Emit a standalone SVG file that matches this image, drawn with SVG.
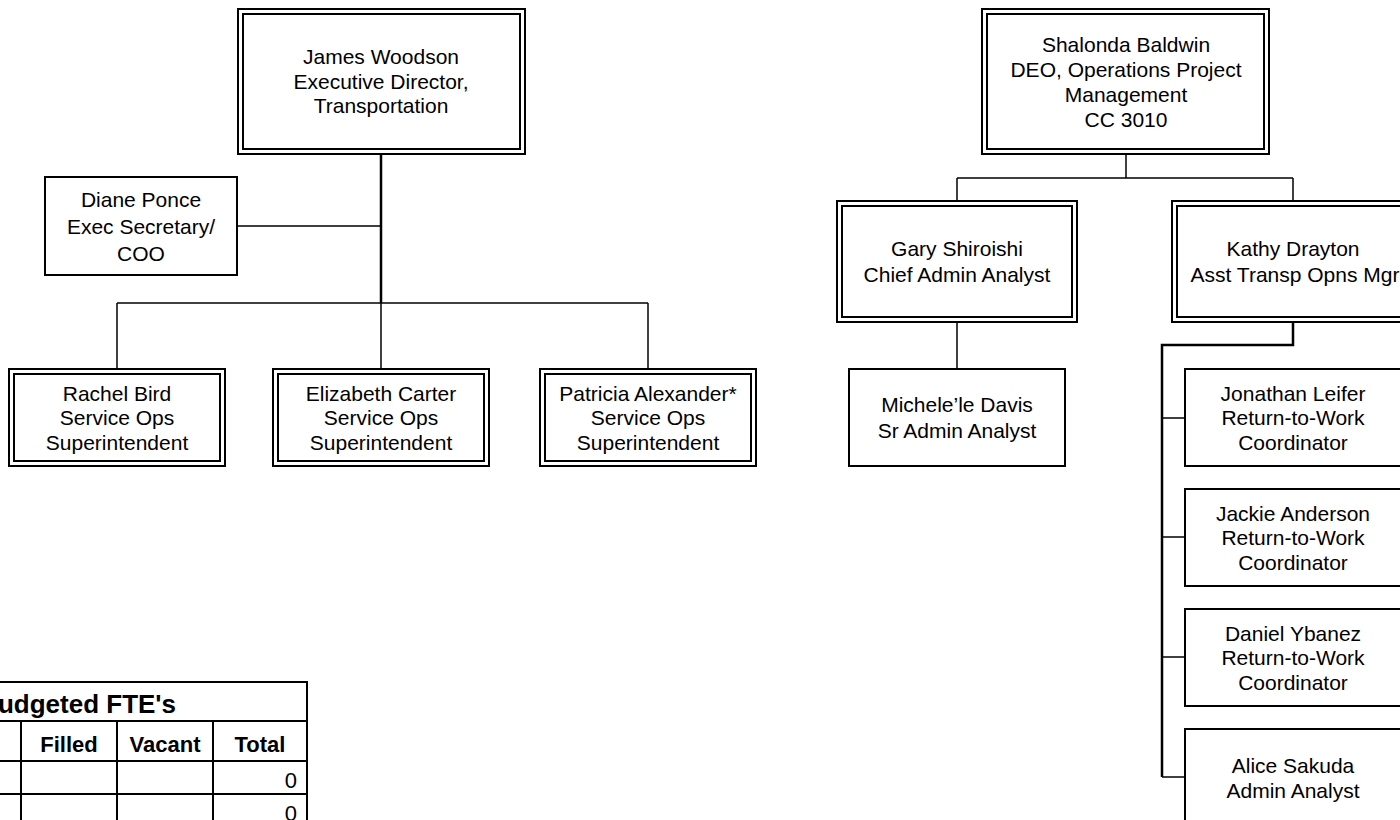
<svg xmlns="http://www.w3.org/2000/svg" width="1400" height="820" viewBox="0 0 1400 820">
<style>
  .bg { fill: #ffffff; }
  .outer, .inner, .single { fill: none; stroke: #000; stroke-width: 2; }
  .t { font-family: "Liberation Sans", Arial, sans-serif; font-size: 21px; fill: #000; text-anchor: middle; }
  .ln { stroke: #000; stroke-width: 1.5; fill: none; }
  .thick { stroke: #000; stroke-width: 2.5; fill: none; }
  .tbl { stroke: #000; stroke-width: 2; fill: none; }
  .th { font-family: "Liberation Sans", Arial, sans-serif; font-weight: bold; fill: #000; }
  .td { font-family: "Liberation Sans", Arial, sans-serif; font-size: 22px; fill: #000; text-anchor: end; }
</style>
<rect class="bg" x="0" y="0" width="1400" height="820"/>

<g id="connectors">
  <line class="thick" x1="381" y1="154" x2="381" y2="303"/>
  <line class="ln" x1="381" y1="303" x2="381" y2="369"/>
  <line class="ln" x1="237" y1="226" x2="381" y2="226"/>
  <line class="ln" x1="117" y1="303" x2="648" y2="303"/>
  <line class="ln" x1="117" y1="303" x2="117" y2="369"/>
  <line class="ln" x1="648" y1="303" x2="648" y2="369"/>
  <line class="ln" x1="1126" y1="154" x2="1126" y2="178"/>
  <line class="ln" x1="957" y1="178" x2="1293" y2="178"/>
  <line class="ln" x1="957" y1="178" x2="957" y2="201"/>
  <line class="ln" x1="1293" y1="178" x2="1293" y2="201"/>
  <line class="ln" x1="957" y1="322" x2="957" y2="369"/>
  <polyline class="thick" points="1293,322 1293,345 1162,345 1162,777"/>
  <line class="ln" x1="1162" y1="418" x2="1185" y2="418"/>
  <line class="ln" x1="1162" y1="537" x2="1185" y2="537"/>
  <line class="ln" x1="1162" y1="657" x2="1185" y2="657"/>
  <line class="ln" x1="1162" y1="777" x2="1185" y2="777"/>
</g>

<g id="james-woodson">
  <rect class="outer" x="238" y="9" width="287" height="145"/>
  <rect class="inner" x="243" y="14" width="277" height="135"/>
  <text class="t" x="381" y="64">James Woodson</text>
  <text class="t" x="381" y="88.5">Executive Director,</text>
  <text class="t" x="381" y="113">Transportation</text>
</g>

<g id="diane-ponce">
  <rect class="single" x="45" y="177" width="192" height="98"/>
  <text class="t" x="141" y="206.5">Diane Ponce</text>
  <text class="t" x="141" y="233.5">Exec Secretary/</text>
  <text class="t" x="141" y="260.5">COO</text>
</g>

<g id="rachel-bird">
  <rect class="outer" x="9" y="369" width="216" height="97"/>
  <rect class="inner" x="14" y="374" width="206" height="87"/>
  <text class="t" x="117" y="400.5">Rachel Bird</text>
  <text class="t" x="117" y="425">Service Ops</text>
  <text class="t" x="117" y="449.5">Superintendent</text>
</g>

<g id="elizabeth-carter">
  <rect class="outer" x="273" y="369" width="216" height="97"/>
  <rect class="inner" x="278" y="374" width="206" height="87"/>
  <text class="t" x="381" y="400.5">Elizabeth Carter</text>
  <text class="t" x="381" y="425">Service Ops</text>
  <text class="t" x="381" y="449.5">Superintendent</text>
</g>

<g id="patricia-alexander">
  <rect class="outer" x="540" y="369" width="216" height="97"/>
  <rect class="inner" x="545" y="374" width="206" height="87"/>
  <text class="t" x="648" y="400.5">Patricia Alexander*</text>
  <text class="t" x="648" y="425">Service Ops</text>
  <text class="t" x="648" y="449.5">Superintendent</text>
</g>

<g id="shalonda-baldwin">
  <rect class="outer" x="982" y="9" width="287" height="145"/>
  <rect class="inner" x="987" y="14" width="277" height="135"/>
  <text class="t" x="1126" y="51.5">Shalonda Baldwin</text>
  <text class="t" x="1126" y="76.5">DEO, Operations Project</text>
  <text class="t" x="1126" y="101.5">Management</text>
  <text class="t" x="1126" y="126.5">CC 3010</text>
</g>

<g id="gary-shiroishi">
  <rect class="outer" x="837" y="201" width="240" height="121"/>
  <rect class="inner" x="842" y="206" width="230" height="111"/>
  <text class="t" x="957" y="255.5">Gary Shiroishi</text>
  <text class="t" x="957" y="281.5">Chief Admin Analyst</text>
</g>

<g id="kathy-drayton">
  <rect class="outer" x="1172" y="201" width="242" height="121"/>
  <rect class="inner" x="1177" y="206" width="232" height="111"/>
  <text class="t" x="1293" y="255.5">Kathy Drayton</text>
  <text class="t" x="1295" y="281.5">Asst Transp Opns Mgr</text>
</g>

<g id="michele-davis">
  <rect class="single" x="849" y="369" width="216" height="97"/>
  <text class="t" x="957" y="412">Michele’le Davis</text>
  <text class="t" x="957" y="438">Sr Admin Analyst</text>
</g>

<g id="jonathan-leifer">
  <rect class="single" x="1185" y="369" width="216" height="97"/>
  <text class="t" x="1293" y="400.5">Jonathan Leifer</text>
  <text class="t" x="1293" y="425">Return-to-Work</text>
  <text class="t" x="1293" y="449.5">Coordinator</text>
</g>

<g id="jackie-anderson">
  <rect class="single" x="1185" y="489" width="216" height="97"/>
  <text class="t" x="1293" y="520.5">Jackie Anderson</text>
  <text class="t" x="1293" y="545">Return-to-Work</text>
  <text class="t" x="1293" y="569.5">Coordinator</text>
</g>

<g id="daniel-ybanez">
  <rect class="single" x="1185" y="609" width="216" height="97"/>
  <text class="t" x="1293" y="640.5">Daniel Ybanez</text>
  <text class="t" x="1293" y="665">Return-to-Work</text>
  <text class="t" x="1293" y="689.5">Coordinator</text>
</g>

<g id="alice-sakuda">
  <rect class="single" x="1185" y="729" width="216" height="97"/>
  <text class="t" x="1293" y="772.5">Alice Sakuda</text>
  <text class="t" x="1293" y="797.5">Admin Analyst</text>
</g>

<g id="fte-table">
  <line class="tbl" x1="-5" y1="682" x2="307" y2="682"/>
  <line class="tbl" x1="-5" y1="721" x2="307" y2="721"/>
  <line class="tbl" x1="-5" y1="761" x2="307" y2="761"/>
  <line class="tbl" x1="-5" y1="794" x2="307" y2="794"/>
  <line class="tbl" x1="307" y1="681" x2="307" y2="830"/>
  <line class="tbl" x1="21" y1="721" x2="21" y2="830"/>
  <line class="tbl" x1="117" y1="721" x2="117" y2="830"/>
  <line class="tbl" x1="213" y1="721" x2="213" y2="830"/>
  <text class="th" x="176" y="713" font-size="26" text-anchor="end">Budgeted FTE's</text>
  <text class="th" x="69" y="752" font-size="22" text-anchor="middle">Filled</text>
  <text class="th" x="165" y="752" font-size="22" text-anchor="middle">Vacant</text>
  <text class="th" x="260" y="752" font-size="22" text-anchor="middle">Total</text>
  <text class="td" x="297" y="788">0</text>
  <text class="td" x="297" y="821">0</text>
</g>
</svg>
